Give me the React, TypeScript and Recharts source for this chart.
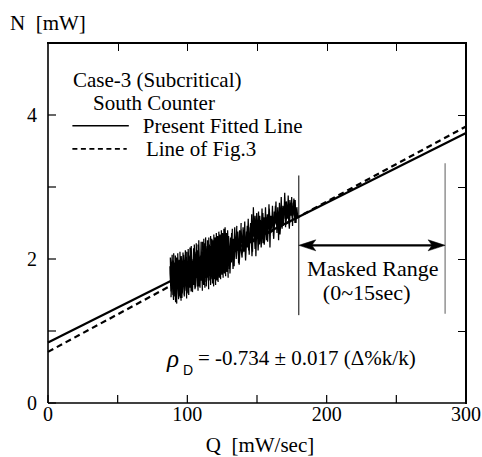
import React from 'react';
import { ComposedChart, Line, XAxis, YAxis, ReferenceLine, Scatter } from 'recharts';

const xTicks = [0, 50, 100, 150, 200, 250, 300];
const xTickLabels = [0, 100, 200, 300];
const yTicks = [0, 1, 2, 3, 4, 5];
const yTickLabels = [0, 2, 4];

const fittedQ = [0, 300];
const fittedN = [0.84, 3.75];
const fig3Q = [0, 300];
const fig3N = [0.71, 3.84];

const maskedStartQ = 180;
const maskedEndQ = 285;
const arrowN = 2.19;

// trace, backward sweep through dense part (Q ~ 129 -> 88)
const traceEarlyBack: [number, number][] = [
  [129.0,1.92],[128.2,2.3],[127.6,1.86],[126.9,2.2],[126.2,1.9],[125.5,2.28],[124.9,1.82],[124.1,2.14],[123.5,1.88],[122.8,2.26],[122.1,1.8],[121.4,2.18],[120.8,1.84],[120.0,2.14],[119.3,1.72],[118.7,2.2],[118.0,1.8],[117.3,2.1],[116.6,1.72],[116.0,2.18],[115.3,1.76],[114.6,2.04],[113.9,1.7],[113.3,2.14],[112.6,1.74],[111.9,2.06],[111.2,1.66],[110.6,2.1],[109.9,1.7],[109.2,1.98],[108.5,1.62],[107.9,2.08],[107.2,1.68],[106.5,1.96],[105.8,1.6],[105.2,2.04],[104.5,1.64],[103.8,1.92],[103.1,1.56],[102.5,2.0],[101.8,1.6],[101.1,1.88],[100.4,1.54],[99.8,1.98],[99.1,1.56],[98.4,1.86],[97.7,1.5],[97.1,1.96],[96.4,1.52],[95.7,1.84],[95.0,1.46],[94.4,1.94],[93.7,1.5],[93.0,1.82],[92.3,1.44],[91.7,1.92],[91.0,1.48],[90.3,1.8],[89.6,1.5],[89.0,1.9],[88.3,1.55],[87.6,1.8]
];

// trace, forward sweep through dense part (Q ~ 88 -> 130)
const traceEarly: [number, number][] = [
  [87.5,1.9],[88.2,1.55],[87.8,2.02],[88.9,1.72],[88.3,1.47],[89.1,2.06],[89.6,1.62],[88.9,1.84],[90.1,1.43],[89.5,1.98],[90.6,1.7],[90.2,2.08],[91.0,1.52],[90.5,1.8],[91.6,1.4],[91.1,1.95],[91.9,1.66],[91.4,2.05],[92.4,1.38],[92.0,1.88],[92.8,1.58],[92.3,2.02],[93.2,1.75],[93.7,1.44],[93.1,2.08],[94.0,1.6],[93.6,1.9],[94.6,1.48],[94.2,1.99],[95.1,1.7],[94.7,2.1],[95.5,1.42],[95.2,1.86],[96.0,1.56],[95.6,2.04],[96.5,1.78],[96.1,1.46],[96.9,2.09],[97.3,1.64],[96.8,1.92],[97.7,1.5],[97.3,2.06],[98.2,1.72],[97.8,1.48],[98.6,2.12],[99.1,1.6],[98.7,1.96],[99.5,1.45],[99.1,2.03],[100.0,1.74],[99.6,2.1],[100.5,1.52],[100.1,1.9],[101.0,1.62],[100.6,2.14],[101.4,1.8],[101.0,1.5],[101.8,2.05],[102.3,1.66],[101.9,2.16],[102.7,1.55],[102.3,1.94],[103.2,1.72],[102.8,2.18],[103.6,1.58],[103.2,2.0],[104.1,1.8],[103.7,1.54],[104.5,2.15],[105.0,1.68],[104.6,2.06],[105.4,1.6],[105.0,2.2],[105.9,1.84],[105.5,1.58],[106.3,2.1],[106.8,1.74],[106.4,2.22],[107.2,1.62],[106.8,1.98],[107.7,1.56],[107.3,2.12],[108.1,1.86],[107.7,2.2],[108.6,1.66],[108.2,2.26],[109.0,1.72],[109.5,2.05],[109.1,1.6],[109.9,2.24],[110.4,1.8],[110.0,2.12],[110.8,1.56],[110.4,2.0],[111.3,1.74],[110.9,2.24],[111.7,1.64],[111.3,2.16],[112.2,1.84],[111.8,2.28],[112.6,1.6],[112.2,2.02],[113.1,1.78],[112.7,2.22],[113.5,1.68],[113.1,2.3],[114.0,1.88],[113.6,1.62],[114.4,2.18],[114.9,1.74],[114.5,2.26],[115.3,1.58],[114.9,2.08],[115.8,1.86],[115.4,2.3],[116.2,1.7],[115.8,2.2],[116.7,1.64],[116.3,2.04],[117.1,1.9],[116.7,2.32],[117.6,1.72],[117.2,2.14],[118.0,1.66],[117.6,2.28],[118.5,1.92],[118.1,2.06],[118.9,1.62],[118.5,2.26],[119.4,1.84],[119.0,2.34],[119.8,1.76],[119.4,2.12],[120.3,1.64],[119.9,2.3],[120.7,1.94],[120.3,2.18],[121.2,1.7],[120.8,2.36],[121.6,1.88],[121.2,2.1],[122.1,1.68],[121.7,2.32],[122.5,1.96],[122.1,2.22],[123.0,1.74],[122.6,2.38],[123.4,1.9],[123.0,2.16],[123.9,1.72],[123.5,2.34],[124.3,2.0],[123.9,2.26],[124.8,1.78],[124.4,2.4],[125.2,1.94],[124.8,2.2],[125.7,1.74],[125.3,2.36],[126.1,2.02],[125.7,2.28],[126.6,1.8],[126.2,2.42],[127.0,1.98],[126.6,2.24],[127.5,1.76],[127.1,2.44],[127.9,2.04],[127.5,2.3],[128.4,1.82],[128.0,2.36],[128.8,2.06],[128.4,2.22],[129.3,1.74],[128.9,2.4],[129.7,1.96],[129.3,2.3]
];

// sparser later part (Q ~ 130-179), forward then back
const traceLate: [number, number][] = [
  [130.2,1.86],[131.0,2.3],[131.6,1.95],[132.3,2.42],[132.0,2.05],[133.1,2.28],[133.6,1.9],[134.2,2.36],[134.9,2.08],[135.5,2.46],[135.1,2.0],[136.2,2.32],[136.8,1.94],[137.5,2.4],[138.1,2.12],[138.6,2.5],[138.2,2.18],[139.3,2.02],[140.0,2.44],[140.6,2.1],[141.2,2.52],[141.8,2.02],[142.5,2.38],[143.1,2.16],[143.7,2.56],[144.4,2.06],[145.0,2.44],[145.6,2.22],[146.2,2.62],[146.8,2.1],[147.4,2.72],[148.0,2.3],[148.6,2.6],[149.2,2.04],[149.9,2.5],[150.5,2.28],[151.1,2.66],[151.8,2.2],[152.4,2.54],[153.0,2.3],[153.6,2.7],[154.3,2.22],[154.9,2.58],[155.5,2.36],[156.1,2.72],[156.8,2.26],[157.4,2.62],[158.0,2.4],[158.6,2.76],[159.3,2.16],[159.9,2.6],[160.5,2.42],[161.1,2.74],[161.8,2.32],[162.4,2.66],[163.0,2.48],[163.6,2.8],[164.3,2.36],[164.9,2.72],[165.5,2.26],[166.1,2.78],[166.8,2.48],[167.4,2.86],[168.0,2.42],[168.6,2.74],[169.3,2.56],[169.9,2.92],[170.5,2.44],[171.1,2.8],[171.8,2.56],[172.4,2.88],[173.0,2.5],[173.6,2.82],[174.3,2.6],[174.9,2.86],[175.5,2.46],[176.1,2.78],[176.8,2.6],[177.4,2.82],[178.0,2.5],[178.6,2.72],[179.2,2.58],
  [178.4,2.66],[177.2,2.5],[176.5,2.84],[175.3,2.56],[174.1,2.78],[173.2,2.42],[172.0,2.74],[170.8,2.5],[170.0,2.86],[168.8,2.46],[167.8,2.7],[166.5,2.34],[165.6,2.66],[164.2,2.44],[163.2,2.74],[162.0,2.28],[161.0,2.62],[159.8,2.36],[158.8,2.7],[157.6,2.24],[156.6,2.58],[155.2,2.2],[154.2,2.64],[153.0,2.16],[152.0,2.6],[150.8,2.12],[149.8,2.64],[148.6,2.14],[147.6,2.56],[146.4,2.04],[145.4,2.5],[144.0,2.12],[143.0,2.46],[141.8,1.98],[140.8,2.4],[139.6,2.08],[138.6,2.42],[137.2,1.92],[136.2,2.38],[135.0,2.02],[134.0,2.44],[132.8,1.86],[131.8,2.36],[130.6,1.8],[129.6,2.32]
];

const legendTitle = ['Case-3 (Subcritical)', 'South Counter'];
const legendLabels = ['Present Fitted Line', 'Line of Fig.3'];
const maskedLabels = ['Masked Range', '(0~15sec)'];
const rhoText = '= -0.734 \u00b1 0.017 (\u0394%k/k)';

const SERIF = '"Liberation Serif", "Times New Roman", serif';

const fittedData = fittedQ.map((q, i) => ({ q, n: fittedN[i] }));
const fig3Data = fig3Q.map((q, i) => ({ q, n: fig3N[i] }));
const noiseData = [...traceEarlyBack, ...traceEarly, ...traceLate].map(([q, n]) => ({ q, n }));

const X_MAX = 300;
const Y_MAX = 5;

const CHART_W = 482;
const CHART_H = 457;
const MARGIN = { top: 43, right: 16, bottom: 24, left: 8 };
const X_AXIS_H = 30;
const Y_AXIS_W = 40;
const PL = MARGIN.left + Y_AXIS_W;
const PR = CHART_W - MARGIN.right;
const PT = MARGIN.top;
const PB = CHART_H - MARGIN.bottom - X_AXIS_H;
const TICK = 8;

const textAnnotations = [
  { q: 17.9, n: 4.486, text: legendTitle[0], kind: 'text', size: 21 },
  { q: 32.3, n: 4.167, text: legendTitle[1], kind: 'text', size: 21 },
  { q: 68.0, n: 3.847, text: legendLabels[0], kind: 'text', size: 21 },
  { q: 70.3, n: 3.528, text: legendLabels[1], kind: 'text', size: 21 },
  { q: 233.1, n: 1.875, text: maskedLabels[0], kind: 'middle', size: 22 },
  { q: 228.7, n: 1.528, text: maskedLabels[1], kind: 'middle', size: 22 },
  { q: 85.4, n: 0.625, text: rhoText, kind: 'rho', size: 21 },
];

const arrowHeads = [
  { q: maskedStartQ, n: arrowN, dir: -1 },
  { q: maskedEndQ, n: arrowN, dir: 1 },
];

const TextShape = (props: any) => {
  const { cx, cy, payload } = props;
  if (payload.kind === 'rho') {
    return (
      <g>
        <text x={cx} y={cy} fontFamily={SERIF} fontStyle="italic" fontSize={25} dominantBaseline="central" fill="#000">ρ</text>
        <text x={cx + 16} y={cy + 12} fontFamily='"Liberation Sans", Arial, sans-serif' fontSize={14} dominantBaseline="central" fill="#000">D</text>
        <text x={cx + 31} y={cy} fontFamily={SERIF} fontSize={payload.size} dominantBaseline="central" fill="#000">{payload.text}</text>
      </g>
    );
  }
  return (
    <text
      x={cx}
      y={cy}
      fontFamily={SERIF}
      fontSize={payload.size}
      dominantBaseline="central"
      textAnchor={payload.kind === 'middle' ? 'middle' : 'start'}
      fill="#000"
    >
      {payload.text}
    </text>
  );
};

const ArrowHead = (props: any) => {
  const { cx, cy, payload } = props;
  const d = payload.dir;
  const pts = [
    [cx, cy],
    [cx - d * 17, cy - 5.5],
    [cx - d * 13, cy],
    [cx - d * 17, cy + 5.5],
  ]
    .map((p) => p.join(','))
    .join(' ');
  return <polygon points={pts} fill="#000" stroke="#000" strokeWidth={0.5} />;
};

const fmtX = (v: number) => (xTickLabels.includes(v) ? String(v) : '');
const fmtY = (v: number) => (yTickLabels.includes(v) ? String(v) : '');

const tickStyle = { fontSize: 20, fill: '#000', fontFamily: SERIF };
const axisLine = { stroke: '#000', strokeWidth: 1.6 };
const tickLine = { stroke: '#000', strokeWidth: 1.2 };

// top + right frame with inward ticks
const FrameBoxes = () => {
  const fx = (q: number) => PL + (q / X_MAX) * (PR - PL);
  const fy = (n: number) => PB - (n / Y_MAX) * (PB - PT);
  const base: React.CSSProperties = { position: 'absolute', background: '#000', zIndex: 10, pointerEvents: 'none' };
  return (
    <>
      <div style={{ ...base, left: PL - 1, top: PT - 1, width: PR - PL + 2, height: 2 }} />
      <div style={{ ...base, left: PR - 1, top: PT - 1, width: 2, height: PB - PT + 2 }} />
      {xTicks.slice(1, -1).map((t) => (
        <div key={`tt${t}`} style={{ ...base, left: Math.round(fx(t)) - 0.5, top: PT, width: 1.3, height: TICK }} />
      ))}
      {yTicks.slice(1, -1).map((t) => (
        <div key={`rt${t}`} style={{ ...base, left: PR - TICK, top: Math.round(fy(t)) - 0.5, width: TICK, height: 1.3 }} />
      ))}
    </>
  );
};

export default function App() {
  return (
    <div style={{ position: 'absolute', left: 0, top: 0, width: CHART_W, height: CHART_H, background: '#fff', overflow: 'hidden' }}>
      <ComposedChart width={CHART_W} height={CHART_H} margin={MARGIN}>
        <XAxis
          dataKey="q"
          type="number"
          domain={[0, X_MAX]}
          ticks={xTicks}
          tickFormatter={fmtX}
          interval={0}
          height={X_AXIS_H}
          tickSize={-TICK}
          tickMargin={12}
          tick={tickStyle}
          axisLine={axisLine}
          tickLine={tickLine}
        />
        <YAxis
          dataKey="n"
          type="number"
          domain={[0, Y_MAX]}
          ticks={yTicks}
          tickFormatter={fmtY}
          interval={0}
          width={Y_AXIS_W}
          tickSize={-TICK}
          tickMargin={19}
          tick={tickStyle}
          axisLine={axisLine}
          tickLine={tickLine}
        />
        <ReferenceLine y={Y_MAX} stroke="#000" strokeWidth={1.6} />
        <ReferenceLine x={X_MAX} stroke="#000" strokeWidth={1.6} />
        <Line data={fittedData} dataKey="n" type="linear" stroke="#000" strokeWidth={2.2} dot={false} activeDot={false} isAnimationActive={false} />
        <Line data={fig3Data} dataKey="n" type="linear" stroke="#000" strokeWidth={2.2} strokeDasharray="6 4" dot={false} activeDot={false} isAnimationActive={false} />
        <Line data={noiseData} dataKey="n" type="linear" stroke="#000" strokeWidth={1.25} dot={false} activeDot={false} isAnimationActive={false} />
        <ReferenceLine segment={[{ x: maskedStartQ, y: 1.22 }, { x: maskedStartQ, y: 3.16 }]} stroke="#000" strokeWidth={1} />
        <ReferenceLine segment={[{ x: maskedEndQ, y: 1.24 }, { x: maskedEndQ, y: 3.33 }]} stroke="#777" strokeWidth={1.2} />
        <ReferenceLine segment={[{ x: maskedStartQ + 5, y: arrowN }, { x: maskedEndQ - 5, y: arrowN }]} stroke="#000" strokeWidth={2.2} />
        <ReferenceLine segment={[{ x: 17.5, y: 3.85 }, { x: 58, y: 3.85 }]} stroke="#000" strokeWidth={1.6} />
        <ReferenceLine segment={[{ x: 17.5, y: 3.53 }, { x: 56.5, y: 3.53 }]} stroke="#000" strokeWidth={1.6} strokeDasharray="5 3.5" />
        <Scatter data={arrowHeads} dataKey="n" shape={ArrowHead} isAnimationActive={false} />
        <Scatter data={textAnnotations} dataKey="n" shape={TextShape} isAnimationActive={false} />
      </ComposedChart>
      <FrameBoxes />
      <div style={{ position: 'absolute', left: 10, top: 10, fontFamily: SERIF, fontSize: 21, lineHeight: '26px', whiteSpace: 'pre', color: '#000' }}>
        {'N  [mW]'}
      </div>
      <div style={{ position: 'absolute', left: 160, width: 200, top: 434, textAlign: 'center', fontFamily: SERIF, fontSize: 21, lineHeight: '22px', whiteSpace: 'pre', color: '#000' }}>
        {'Q  [mW/sec]'}
      </div>
    </div>
  );
}
